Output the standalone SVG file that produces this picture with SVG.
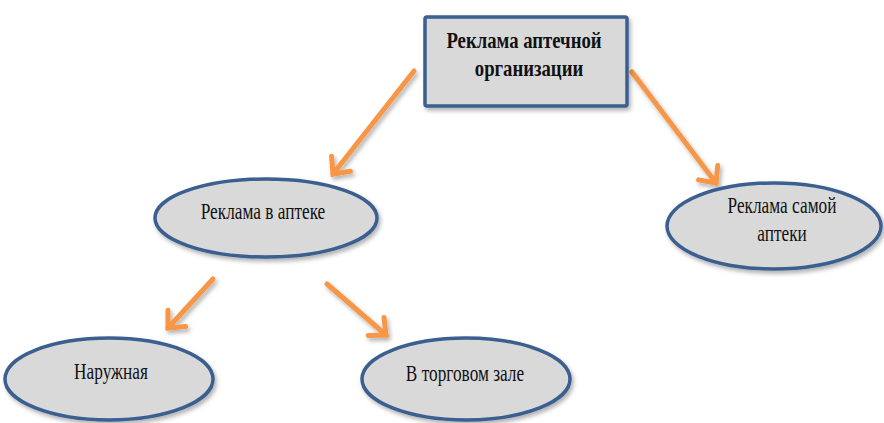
<svg xmlns="http://www.w3.org/2000/svg" width="884" height="423" viewBox="0 0 884 423">
<defs>
<filter id="sh" x="-10%" y="-10%" width="130%" height="130%">
<feDropShadow dx="2" dy="3" stdDeviation="2" flood-color="#000" flood-opacity="0.3"/>
</filter>
<marker id="ah" markerUnits="userSpaceOnUse" markerWidth="30" markerHeight="30" viewBox="-16 -15 30 30" refX="0" refY="0" orient="auto">
<path d="M-13,-12 L0,0 L-13,12" fill="none" stroke="#F79646" stroke-width="5" stroke-linecap="round" stroke-linejoin="miter"/>
</marker>
<style>
.node{fill:#D9D9D9;stroke:#3A5F8F;stroke-width:3.5;filter:url(#sh)}
.conn{stroke:#F79646;stroke-width:5;fill:none;stroke-linecap:round;marker-end:url(#ah);filter:url(#sh)}
text{font-family:"Liberation Serif","Times New Roman",serif;font-size:24px;fill:#111;text-anchor:middle}
.b{font-weight:bold}
</style>
</defs>
<rect width="884" height="423" fill="#fff"/>
<g id="connectors">
<line class="conn" x1="414" y1="71" x2="333" y2="174"/>
<line class="conn" x1="632" y1="72" x2="716" y2="183"/>
<line class="conn" x1="213" y1="279" x2="168" y2="328"/>
<line class="conn" x1="327" y1="284" x2="386" y2="335"/>
</g>
<g id="root">
<rect class="node" x="425" y="17" width="202" height="89" rx="2"/>
<g transform="translate(524 48) scale(0.78 1)"><text class="b" x="0" y="0">Реклама аптечной</text></g>
<g transform="translate(529 76) scale(0.78 1)"><text class="b" x="0" y="0">организации</text></g>
</g>
<g id="v_apteke">
<ellipse class="node" cx="266" cy="218" rx="111" ry="39"/>
<g transform="translate(263 219) scale(0.72 1)"><text x="0" y="0">Реклама в аптеке</text></g>
</g>
<g id="samoy">
<ellipse class="node" cx="774" cy="226" rx="107" ry="43"/>
<g transform="translate(782 213) scale(0.72 1)"><text x="0" y="0">Реклама самой</text></g>
<g transform="translate(782 241) scale(0.72 1)"><text x="0" y="0">аптеки</text></g>
</g>
<g id="naruzhnaya">
<ellipse class="node" cx="109" cy="379" rx="104" ry="41"/>
<g transform="translate(111 379) scale(0.72 1)"><text x="0" y="0">Наружная</text></g>
</g>
<g id="v_torgovom">
<ellipse class="node" cx="466" cy="379" rx="104" ry="41"/>
<g transform="translate(465 381) scale(0.72 1)"><text x="0" y="0">В торговом зале</text></g>
</g>
</svg>
